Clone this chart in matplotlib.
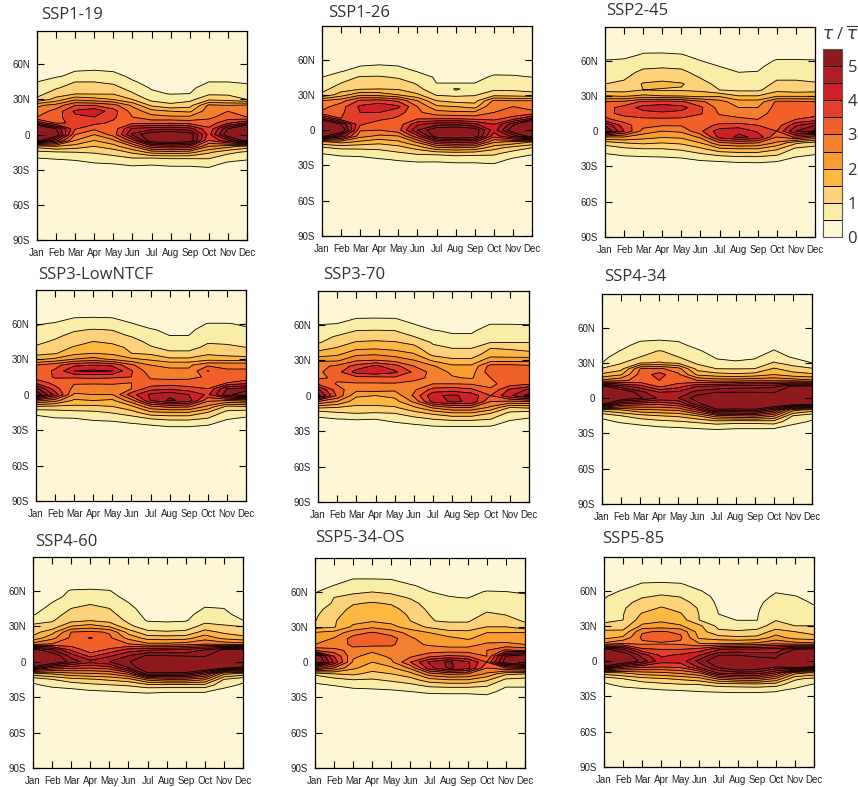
import numpy as np
import matplotlib
matplotlib.use("Agg")
import matplotlib.pyplot as plt
from matplotlib.colors import ListedColormap, BoundaryNorm
from matplotlib.cm import ScalarMappable

months = ["Jan", "Feb", "Mar", "Apr", "May", "Jun", "Jul", "Aug", "Sep", "Oct", "Nov", "Dec"]
lat_ticks = [60, 30, 0, -30, -60, -90]
lat_labels = ["60N", "30N", "0", "30S", "60S", "90S"]
lats = [70, 65, 60, 55, 50, 45, 40, 35, 30, 25, 20, 15, 10, 5, 0, -5, -10, -15, -20, -25, -30]
colors = ["#FDF7D5", "#F9EDA8", "#FED27A", "#FDB844", "#F99D31", "#F47F2E",
          "#F26029", "#E23F2A", "#CF2027", "#AE1F24", "#8E1A1E"]
bounds = [0, 0.5, 1, 1.5, 2, 2.5, 3, 3.5, 4, 4.5, 5, 5.5]
background = 0.2

# one row per month, values from 70N down to 30S
ssp119 = [
    [.2,.2,.2,.25,.35,.5,.65,.85,1.1,2.4,2.7,3.0,4.4,7,7.5,5.8,1.7,.85,.5,.3,.2],
    [.2,.2,.2,.3,.45,.7,.95,1.2,1.7,2.7,3.2,3.3,3.4,5.5,6,4.2,2.0,.95,.55,.3,.2],
    [.2,.2,.25,.48,.6,1.0,1.2,1.45,2.4,3.5,4.1,3.9,3.6,3.55,3.0,2.5,1.8,1.0,.6,.35,.2],
    [.2,.2,.3,.5,.7,1.0,1.2,1.45,2.2,3.5,4.4,4.0,3.65,3.1,2.5,2.0,1.5,1.05,.75,.45,.25],
    [.2,.2,.25,.45,.65,.9,1.15,1.45,2.0,3.2,3.7,3.6,3.4,3.2,3.2,2.4,1.8,1.2,.85,.5,.25],
    [.2,.2,.2,.3,.4,.55,.8,1.05,1.5,2.4,2.8,3.0,3.4,4.6,5.1,3.8,2.5,1.6,1.0,.6,.3],
    [.2,.2,.2,.25,.3,.35,.45,.6,.85,1.4,2.2,2.7,3.3,4.8,6,6,3.8,2.2,1.0,.55,.3],
    [.2,.2,.2,.2,.25,.3,.4,.47,.8,1.1,2.0,2.6,3.4,4.9,6.2,6.2,4.0,2.3,1.05,.6,.35],
    [.2,.2,.2,.2,.25,.3,.4,.5,.85,1.3,1.9,2.6,3.3,4.7,5.9,5.9,3.9,2.2,1.05,.6,.35],
    [.2,.2,.2,.3,.4,.5,.7,.9,1.4,2.6,2.8,2.9,3.2,3.6,3.8,3.5,2.5,1.6,1.05,.65,.4],
    [.2,.2,.2,.28,.38,.5,.7,.9,1.3,2.5,3.0,3.2,3.9,5.5,6,4.4,2.2,1.15,.7,.4,.25],
    [.2,.2,.2,.25,.35,.45,.62,.85,1.0,2.6,2.8,3.0,4.5,7,7.5,5.8,1.8,.9,.6,.3,.2],
]
ssp126 = [
    [.2,.2,.2,.25,.35,.5,.65,.85,1.1,2.5,2.8,3.1,4.8,7,7.5,5.8,1.9,.95,.5,.3,.2],
    [.2,.2,.2,.3,.48,.75,1.0,1.25,1.75,2.8,3.3,3.4,3.5,5.5,6.2,4.4,2.2,1.1,.6,.35,.2],
    [.2,.2,.25,.48,.65,1.05,1.25,1.45,2.4,3.6,4.1,4.0,3.7,3.6,3.05,2.7,1.9,1.1,.65,.35,.2],
    [.2,.2,.3,.52,.75,1.05,1.25,1.5,2.3,3.7,4.4,4.0,3.7,3.1,3.0,2.4,1.7,1.1,.8,.45,.25],
    [.2,.2,.25,.48,.68,.95,1.2,1.45,2.0,3.4,4.1,3.7,3.4,3.2,3.3,2.5,1.9,1.3,.9,.55,.28],
    [.2,.2,.2,.3,.48,.7,.95,1.1,1.6,2.5,3.0,3.1,3.4,4.4,5,3.9,2.6,1.7,1.05,.65,.3],
    [.2,.2,.2,.25,.35,.45,.5,.75,.95,1.5,2.1,2.7,3.4,4.8,6,5.9,4,2.4,1.1,.6,.35],
    [.2,.2,.2,.25,.3,.4,.5,1.03,.9,1.3,2,2.6,3.4,4.9,6.2,6.3,4.2,2.5,1.2,.65,.38],
    [.2,.2,.2,.25,.3,.4,.5,.9,.95,1.3,1.8,2.6,3.3,4.6,5.9,5.9,4.1,2.4,1.15,.65,.38],
    [.2,.2,.2,.3,.42,.55,.72,.9,1.3,2.6,3.0,3.0,3.3,4.0,4.2,3.7,2.6,1.7,1.1,.7,.42],
    [.2,.2,.2,.28,.4,.55,.72,.9,1.25,2.5,3.0,3.1,3.7,5.3,6,4.7,2.4,1.3,.75,.42,.25],
    [.2,.2,.2,.25,.38,.5,.65,.85,1.15,2.5,2.85,3.1,4.6,7,7.5,5.9,2.0,1.0,.55,.3,.2],
]
ssp245 = [
    [.2,.25,.52,.65,.8,.9,1.0,1.3,2.0,3.0,3.3,3.35,3.6,5.0,5.5,2.5,1.2,.72,.45,.3,.2],
    [.2,.3,.58,.72,.85,.95,1.1,1.3,1.9,3.1,3.7,3.65,3.3,3.7,4.0,2.5,1.5,.9,.55,.3,.2],
    [.35,.55,.72,.92,1.1,1.3,1.55,1.5,2.1,3.6,4.2,3.8,3.4,3.2,2.8,2.2,1.6,1.0,.6,.3,.2],
    [.35,.56,.72,.95,1.15,1.35,1.65,1.45,2.0,3.7,4.3,3.9,3.4,3.05,2.5,2.05,1.5,1.0,.62,.32,.2],
    [.3,.52,.7,.92,1.1,1.3,1.55,1.45,1.95,3.6,4.2,3.8,3.4,3.05,2.6,2.1,1.6,1.1,.7,.35,.2],
    [.22,.35,.5,.7,.85,1.0,1.2,1.4,1.8,3.1,3.6,3.55,3.2,3.3,3.4,2.6,2.0,1.4,.9,.5,.25],
    [.2,.22,.3,.5,.6,.72,.85,1.0,1.9,2.7,2.8,2.95,3.2,3.6,4.3,4.2,2.9,1.9,1.1,.55,.25],
    [.2,.2,.25,.4,.5,.6,.75,.9,1.5,2.2,2.5,2.8,3.1,3.7,4.4,4.6,3.1,2,1.2,.6,.3],
    [.2,.2,.25,.4,.52,.62,.78,.9,1.5,2.2,2.5,2.8,3.0,3.5,3.9,4.4,3.0,2,1.2,.62,.3],
    [.2,.25,.55,.7,.85,.95,1.1,1.35,1.9,3.1,3.2,3.2,3.1,3.2,3.5,3.0,2.4,1.6,1.05,.55,.28],
    [.2,.25,.55,.68,.82,.95,1.1,1.25,1.9,3.1,3.25,3.25,3.5,4.4,5,3.6,1.6,.9,.6,.35,.22],
    [.2,.25,.53,.66,.78,.9,1.05,1.3,1.9,3.0,3.2,3.3,3.7,5,5.6,2.9,1.3,.75,.5,.3,.2],
]
ssp3low = [
    [.2,.2,.45,.6,.75,.9,1.05,1.3,1.9,3,3.1,3.2,3.9,5.2,6.0,3.2,1.5,.6,.4,.25,.2],
    [.2,.3,.55,.72,.92,1.05,1.25,1.45,2.1,3.3,3.6,3.55,3.3,3.7,4.3,2.7,1.4,.75,.48,.28,.2],
    [.25,.5,.68,.95,1.1,1.25,1.55,1.85,2.5,3.9,4.5,3.6,3.05,2.85,2.4,1.9,1.4,.85,.5,.3,.2],
    [.28,.52,.7,1.02,1.25,1.5,1.75,2.0,2.7,4.0,4.6,3.65,3.05,2.8,2.5,2.0,1.4,.9,.6,.33,.2],
    [.25,.5,.68,.98,1.15,1.4,1.65,1.9,2.4,3.9,4.5,3.6,3.05,2.85,2.5,1.9,1.5,1.05,.65,.35,.22],
    [.2,.35,.52,.75,.95,1.2,1.4,1.5,2.1,3.1,3.55,3.5,3.0,3.0,3.8,2.8,1.9,1.3,.8,.45,.25],
    [.2,.2,.35,.53,.7,.85,1.05,1.4,1.9,2.5,2.7,2.95,3.1,3.8,4.6,4.5,2.9,1.9,1.05,.55,.25],
    [.2,.2,.3,.42,.5,.65,.85,1.1,1.6,2.4,2.6,2.85,3.2,3.9,4.9,5.1,3.2,2.0,1.15,.65,.3],
    [.2,.2,.3,.42,.5,.68,.85,1.1,1.6,2.4,2.6,2.9,3.15,3.7,4.5,4.8,3.1,2.0,1.15,.65,.3],
    [.2,.25,.52,.65,.8,.95,1.1,1.4,1.8,2.9,3.52,3.05,3.1,3.5,3.9,3.1,2.4,1.5,1.0,.55,.28],
    [.2,.25,.52,.65,.78,.9,1.1,1.3,1.75,2.9,3.05,3.15,3.5,5.0,5.3,3.0,1.4,.85,.55,.32,.2],
    [.2,.22,.45,.55,.68,.82,1.0,1.25,1.7,2.9,3.05,3.1,3.8,5.2,6,3.2,1.5,.72,.45,.28,.2],
]
ssp370 = [
    [.2,.22,.5,.62,.8,.95,1.35,1.7,2.4,2.85,2.9,2.9,3.4,4.6,5.2,3.0,1.6,.65,.42,.28,.2],
    [.2,.28,.55,.72,1.05,1.25,1.55,1.9,2.4,3.1,3.3,3.1,2.95,3.2,3.4,2.5,1.5,.9,.48,.28,.2],
    [.25,.52,.7,1.0,1.2,1.55,1.9,2.4,2.9,3.7,4.2,3.3,2.95,2.65,2.1,1.7,1.4,1.0,.52,.3,.2],
    [.28,.53,.72,1.02,1.25,1.6,1.95,2.45,3.0,4.1,4.4,3.3,2.95,2.7,2.0,1.7,1.4,.95,.5,.3,.2],
    [.25,.52,.7,1.0,1.2,1.55,1.85,2.3,2.8,3.7,4.1,3.4,2.95,2.6,2.15,1.8,1.45,1.0,.65,.35,.2],
    [.2,.35,.52,.72,1.0,1.35,1.7,2.05,2.5,3.0,3.4,3.2,2.8,2.9,3.1,2.6,1.9,1.3,.8,.45,.22],
    [.2,.22,.32,.52,.75,.95,1.1,1.35,1.9,2.55,2.8,2.85,3.0,3.7,4.4,4.2,2.6,1.6,1.0,.55,.25],
    [.2,.2,.3,.45,.55,.75,1.0,1.25,1.6,2.1,2.4,2.55,3.0,3.8,4.6,4.6,3.0,1.9,1.1,.58,.25],
    [.2,.2,.3,.45,.55,.75,1.0,1.25,1.6,2.1,2.3,2.45,2.95,3.6,4.3,4.4,3.0,1.9,1.1,.58,.25],
    [.2,.25,.52,.65,.78,1.0,1.5,1.75,2.3,3.2,3.3,3.0,2.9,3.05,3.5,3.0,2.4,1.5,1.0,.55,.25],
    [.2,.25,.52,.65,.78,1.0,1.45,1.7,2.3,3.2,3.3,3.05,3.2,4.1,4.4,2.9,1.5,.85,.55,.32,.2],
    [.2,.22,.5,.62,.78,1.0,1.4,1.6,2.35,3.1,3.15,3.05,3.4,4.6,5.2,3.0,1.6,.7,.45,.28,.2],
]
ssp434 = [
    [.2,.2,.2,.2,.22,.25,.3,.38,.5,1.05,1.6,2.6,5.7,7,7,5.6,1.7,.6,.4,.25,.2],
    [.2,.2,.2,.22,.3,.4,.52,.7,.95,1.3,1.95,2.9,4.7,6.2,6,4,2,1,.55,.3,.2],
    [.2,.2,.2,.3,.45,.6,.85,1,1.45,3,3.2,3.15,4.2,5.2,5.6,3.7,2.4,1.3,.7,.35,.2],
    [.2,.2,.2,.3,.48,.62,1.02,1.15,1.55,3.1,3.7,3.5,3.4,4.5,4.9,3.6,2.5,1.5,.85,.45,.22],
    [.2,.2,.2,.28,.45,.58,.9,1,1.4,2.7,3.1,3.2,3.8,4.6,5.0,3.9,2.6,1.6,.95,.5,.22],
    [.2,.2,.2,.2,.28,.4,.55,.75,.9,1.3,1.9,3.0,4.5,5.2,5.8,5.3,3.6,2,1.1,.55,.28],
    [.2,.2,.2,.2,.22,.28,.35,.45,.6,1.0,1.7,2.8,4.6,5.5,6.5,6.2,5.4,2.8,1.3,.6,.3],
    [.2,.2,.2,.2,.22,.25,.3,.4,.55,.98,1.6,2.8,4.8,5.5,7,7,5.2,3,1.2,.55,.3],
    [.2,.2,.2,.2,.22,.28,.35,.45,.6,1.0,1.7,2.9,4.8,5.5,7,7,5.3,3.1,1.2,.55,.3],
    [.2,.2,.2,.25,.3,.42,.52,.7,1.05,1.55,2,2.9,4.9,5.4,6.5,6.5,4.3,2.6,1.3,.55,.3],
    [.2,.2,.2,.2,.25,.3,.38,.45,.75,1.25,1.7,2.8,5.6,7,7,6,2.2,1.0,.65,.35,.22],
    [.2,.2,.2,.2,.22,.25,.3,.38,.5,1.05,1.6,2.6,5.7,7,7,5.7,1.8,.65,.45,.28,.2],
]
ssp460 = [
    [.2,.2,.2,.2,.25,.3,.45,.7,1.15,1.3,1.65,2.7,5.7,7,7,5.2,1.9,.65,.42,.25,.2],
    [.2,.2,.2,.25,.5,.65,.82,.95,1.15,1.8,2.35,3,5,6,6.2,4,2.1,1.0,.6,.3,.2],
    [.2,.2,.55,.7,.85,1,1.15,1.3,2.0,3,3.1,3.2,3.9,4.8,5.3,3.7,2.4,1.3,.7,.35,.2],
    [.2,.35,.55,.75,.95,1.1,1.25,1.45,2.2,3.1,3.55,3.2,3.2,3.8,4.7,3.6,2.5,1.45,.85,.45,.22],
    [.2,.2,.52,.7,.85,1,1.15,1.3,1.9,2.95,3.1,3.1,3.6,4.4,5,3.8,2.6,1.6,.95,.5,.25],
    [.2,.2,.2,.3,.5,.62,.75,.9,1.1,1.8,2.35,3,4.2,5,5.4,5,3.2,1.8,1.05,.55,.28],
    [.2,.2,.2,.2,.25,.3,.35,.45,.75,1.1,1.8,2.6,4.4,5.6,6.5,6.2,5.4,2.7,1.3,.6,.3],
    [.2,.2,.2,.2,.22,.28,.32,.42,.7,1.05,1.75,2.6,4.5,5.5,7,7,5.3,3,1.3,.55,.3],
    [.2,.2,.2,.2,.25,.3,.35,.45,.75,1.1,1.8,2.7,4.6,5.4,7,7,5.2,3,1.3,.55,.3],
    [.2,.2,.2,.3,.42,.52,.7,.85,1.15,1.7,2.3,2.9,5,5.3,6.5,6.5,4.3,2.6,1.3,.55,.3],
    [.2,.2,.2,.25,.35,.5,.6,.8,1.05,1.4,1.85,2.8,5.6,7,7,5.8,2.2,1,.65,.35,.22],
    [.2,.2,.2,.2,.25,.3,.35,.5,.98,1.25,1.65,2.7,5.7,7,7,5.3,1.9,.65,.42,.25,.2],
]
ssp534 = [
    [.2,.2,.45,.6,.75,.85,.92,.98,1.3,2.05,2.2,2.5,3.4,6.2,6.5,3.8,1.1,.65,.4,.3,.2],
    [.2,.52,.75,1.0,1.05,1.2,1.35,1.45,1.45,2.2,2.55,2.6,3.2,4.0,4.4,3,1.5,.8,.5,.3,.2],
    [.55,.7,.9,1.15,1.45,1.65,1.75,1.85,2.1,2.8,3.2,3.15,2.8,2.6,2.4,2.1,1.6,1.0,.62,.35,.2],
    [.55,.75,.98,1.25,1.55,1.75,1.85,1.95,2.4,3.05,3.3,3.15,2.6,2.3,2.0,1.7,1.35,.95,.65,.38,.2],
    [.52,.7,.9,1.15,1.45,1.65,1.7,1.85,2.15,2.8,3.2,3.1,2.7,2.6,2.4,1.9,1.5,1.1,.7,.42,.22],
    [.2,.58,.72,.95,1.15,1.3,1.45,1.5,1.75,2.3,2.6,2.6,2.65,2.9,3.5,2.6,1.8,1.3,.85,.5,.25],
    [.2,.3,.5,.65,.8,.9,1.0,1.02,1.4,2.0,2.2,2.45,2.7,3.4,4.6,4.3,2.8,1.8,1.1,.6,.3],
    [.2,.25,.42,.52,.68,.8,.9,.95,1.2,1.7,2.15,2.3,2.75,3.6,5.1,5.1,3.1,2,1.15,.62,.3],
    [.2,.22,.4,.48,.65,.78,.88,.95,1.2,1.65,1.95,2.3,2.75,3.5,4.6,4.7,3.0,2,1.15,.62,.3],
    [.2,.3,.52,.68,.82,.95,1.05,1.3,1.5,2.0,2.2,2.6,3.0,3.0,3.5,3.0,2.4,1.6,1.05,.65,.38],
    [.2,.28,.5,.65,.78,.9,1.0,1.2,1.5,2.0,2.3,2.6,3.6,5.5,5.9,3.5,1.6,.9,.55,.35,.22],
    [.2,.22,.45,.58,.72,.82,.9,.95,1.2,2.05,2.2,2.5,3.4,6.2,6.5,3.8,1.5,.8,.55,.35,.2],
]
ssp585 = [
    [.2,.2,.2,.45,.55,.7,.85,.95,1.05,1.65,1.85,2.6,5.7,7,7,5.2,1.8,.65,.42,.28,.2],
    [.2,.2,.55,.75,.85,.95,.98,1.0,1.25,1.6,2.1,3,5,6,6.3,4,2,1.0,.62,.32,.2],
    [.25,.6,.75,.95,1.15,1.3,1.55,1.75,2.1,2.95,3.1,2.9,3.6,4.8,5.3,3.6,2.3,1.3,.72,.38,.2],
    [.3,.62,.85,1.05,1.3,1.55,1.75,1.9,2.2,3.05,3.2,2.95,3.5,3.9,4.2,3.5,2.4,1.45,.85,.45,.22],
    [.25,.58,.78,.98,1.15,1.35,1.55,1.75,2.05,2.9,3.1,2.9,3.5,4.1,4.2,3.6,2.6,1.6,.95,.5,.25],
    [.2,.25,.52,.7,.85,.95,.98,.99,1.6,1.75,1.9,2.5,3.7,4.5,5.2,4.6,3,1.8,1,.55,.28],
    [.2,.2,.3,.35,.4,.45,.5,.65,.85,1.1,1.7,2.5,4.4,5.5,6,5.6,4.6,2.6,1.2,.58,.3],
    [.2,.2,.25,.3,.35,.38,.4,.48,.8,1.05,1.6,2.5,4.6,5.5,6.5,6.3,4.8,2.9,1.25,.6,.32],
    [.2,.2,.25,.3,.38,.42,.46,.48,.85,1.1,1.65,2.6,4.6,5.3,6,6,4.8,3.0,1.3,.6,.32],
    [.2,.2,.45,.58,.72,.85,.92,.98,1.15,1.75,2.2,2.9,4.7,5.2,5.8,5.5,4,2.4,1.2,.55,.3],
    [.2,.2,.35,.52,.65,.78,.85,.9,1.0,1.5,1.8,2.7,5.5,7,7,5.8,2.2,1.1,.7,.38,.22],
    [.2,.2,.25,.35,.45,.55,.7,.85,1.0,1.3,1.7,2.6,5.7,7,7,5.3,1.9,.85,.45,.28,.2],
]

# name, data, axes box in pixels (left, right, top, bottom), title position in pixels
panels = [
    ("SSP1-19", ssp119, (37, 247, 31, 240), (41, 15)),
    ("SSP1-26", ssp126, (322, 532, 26, 236), (328, 13)),
    ("SSP2-45", ssp245, (605, 815, 27, 237), (606, 11)),
    ("SSP3-LowNTCF", ssp3low, (36, 246, 290, 501), (38, 275)),
    ("SSP3-70", ssp370, (318, 529, 291, 502), (323, 275)),
    ("SSP4-34", ssp434, (602, 812, 294, 504), (604, 277)),
    ("SSP4-60", ssp460, (33, 243, 557, 768), (35, 542)),
    ("SSP5-34-OS", ssp534, (315, 525, 558, 768), (315, 538)),
    ("SSP5-85", ssp585, (604, 814, 557, 767), (602, 539)),
]

W, H = 858, 787
fig = plt.figure(figsize=(W / 100, H / 100), dpi=100)


def add_box(left, right, top, bottom):
    return fig.add_axes([left / W, 1 - bottom / H, (right - left) / W, (bottom - top) / H])


x = np.arange(12)
y = np.array([90, 75] + lats + [-35, -90])
fill_levels = bounds[:-1] + [20]
line_levels = bounds[1:]

for name, data, box, title_pos in panels:
    ax = add_box(*box)
    z = np.array(data).T
    z = np.pad(z, ((2, 2), (0, 0)), constant_values=background)
    ax.contourf(x, y, z, levels=fill_levels, colors=colors)
    ax.contour(x, y, z, levels=line_levels, colors="k", linewidths=0.6)
    ax.set_xlim(0, 11)
    ax.set_ylim(-90, 88.5)
    ax.set_xticks(x)
    ax.set_xticklabels(months)
    ax.set_yticks(lat_ticks)
    ax.set_yticklabels(lat_labels)
    ax.tick_params(direction="in", top=True, right=True, length=5, width=0.8,
                   labelsize=7, labelcolor="#222222")
    ax.tick_params(axis="x", pad=6)
    ax.tick_params(axis="y", pad=5)
    for label in ax.get_xticklabels() + ax.get_yticklabels():
        label.set_family("Liberation Sans")
    for spine in ax.spines.values():
        spine.set_linewidth(0.9)
    fig.text(title_pos[0] / W, 1 - title_pos[1] / H, name, family="Open Sans", fontsize=12,
             color="#333333", ha="left", va="center")

# colour bar
cax = add_box(823, 842, 49, 237)
cmap = ListedColormap(colors)
norm = BoundaryNorm(bounds, cmap.N)
cb = fig.colorbar(ScalarMappable(norm=norm, cmap=cmap), cax=cax, boundaries=bounds,
                  drawedges=True, ticks=[0, 1, 2, 3, 4, 5], spacing="uniform")
cb.dividers.set_color("k")
cb.dividers.set_linewidth(0.7)
cb.outline.set_edgecolor("#555555")
cb.outline.set_linewidth(0.8)
cb.minorticks_off()
cax.tick_params(length=0, pad=4, labelsize=12, labelcolor="#333333")
for label in cax.get_yticklabels():
    label.set_family("Open Sans")
fig.text(840 / W, 1 - 35 / H, r"$\tau$ / $\overline{\tau}$", family="Open Sans",
         fontsize=12, color="#333333", ha="center", va="center")

fig.savefig("out.png", dpi=100)
